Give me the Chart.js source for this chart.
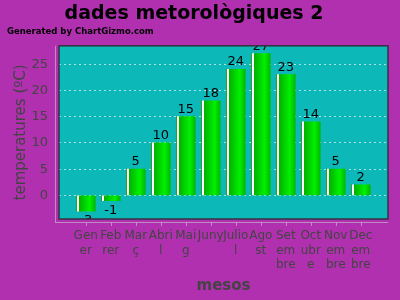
<!DOCTYPE html>
<html>
<head>
<meta charset="utf-8">
<script src="https://cdn.jsdelivr.net/npm/chart.js@4"></script>
<style>
  html, body { margin: 0; padding: 0; background: #b030b0; }
  #wrap { width: 400px; height: 300px; }
</style>
</head>
<body>
<div id="wrap"><canvas id="chart" width="400" height="300"></canvas></div>
<script>
const months = [
    ['Gen', 'er'], ['Feb', 'rer'], ['Mar', 'ç'], ['Abri', 'l'], ['Mai', 'g'], ['Juny'],
    ['Julio', 'l'], ['Ago', 'st'], ['Set', 'em', 'bre'], ['Oct', 'ubr', 'e'], ['Nov', 'em', 'bre'], ['Dec', 'em', 'bre']
];
const temps = [-3, -1, 5, 10, 15, 18, 24, 27, 23, 14, 5, 2];
const yTicks = [0, 5, 10, 15, 20, 25];

const purple = '#b030b0';
const teal = '#0cb8b8';
const axisText = '#444444';

// plot box background, border, value labels and the offset axis lines
const gizmoPlugin = {
    id: 'gizmo',
    beforeDraw(chart) {
        const ctx = chart.ctx;
        const a = chart.chartArea;
        ctx.save();
        ctx.fillStyle = teal;
        ctx.fillRect(a.left, a.top, a.right - a.left, a.bottom - a.top);
        ctx.fillStyle = '#000';
        ctx.font = 'bold 8.5px "DejaVu Sans"';
        ctx.textAlign = 'left';
        ctx.textBaseline = 'middle';
        ctx.fillText('Generated by ChartGizmo.com', 7, 32);
        ctx.restore();
    },
    afterDatasetsDraw(chart) {
        const ctx = chart.ctx;
        const a = chart.chartArea;
        const meta = chart.getDatasetMeta(0);
        ctx.save();
        ctx.beginPath();
        ctx.rect(a.left, a.top, a.right - a.left, a.bottom - a.top);
        ctx.clip();
        ctx.fillStyle = '#000';
        ctx.font = '13px "DejaVu Sans"';
        ctx.textAlign = 'center';
        meta.data.forEach((bar, i) => {
            const v = temps[i];
            if (v >= 0) {
                ctx.textBaseline = 'bottom';
                ctx.fillText(String(v), bar.x, bar.y - 1);
            } else {
                ctx.textBaseline = 'top';
                ctx.fillText(String(v), bar.x, bar.y + 3);
            }
        });
        ctx.restore();

        ctx.save();
        ctx.strokeStyle = '#333340';
        ctx.lineWidth = 1.5;
        ctx.strokeRect(a.left, a.top, a.right - a.left, a.bottom - a.top);
        ctx.strokeStyle = 'rgba(200,160,200,0.8)';
        ctx.lineWidth = 1;
        ctx.beginPath();
        ctx.moveTo(a.left - 3.5, a.top);
        ctx.lineTo(a.left - 3.5, a.bottom + 4);
        ctx.moveTo(a.left - 3.5, a.bottom + 3.5);
        ctx.lineTo(a.right, a.bottom + 3.5);
        const xs = chart.scales.x;
        months.forEach((m, i) => {
            const px = Math.round(xs.getPixelForValue(i)) + 0.5;
            ctx.moveTo(px, a.bottom + 3.5);
            ctx.lineTo(px, a.bottom + 7);
        });
        ctx.stroke();
        ctx.restore();
    }
};

function barGradient(context) {
    const chart = context.chart;
    const xs = chart.scales.x;
    if (!chart.chartArea || !xs || context.dataIndex === undefined) return '#00cc00';
    const cx = xs.getPixelForValue(context.dataIndex);
    const left = cx - 9.5;
    const right = cx + 9.5;
    const g = chart.ctx.createLinearGradient(left, 0, right, 0);
    g.addColorStop(0, '#2e9e2e');
    g.addColorStop(0.05, '#2e9e2e');
    g.addColorStop(0.06, '#ffffff');
    g.addColorStop(0.12, '#ffffff');
    g.addColorStop(0.14, '#00b000');
    g.addColorStop(0.7, '#00f000');
    g.addColorStop(1, '#00b800');
    return g;
}

new Chart(document.getElementById('chart'), {
    type: 'bar',
    data: {
        datasets: [{
            data: temps.map((v, i) => ({ x: i, y: v })),
            backgroundColor: barGradient,
            borderWidth: 0,
            barThickness: 19
        }]
    },
    options: {
        responsive: false,
        animation: false,
        layout: { padding: { left: 0, right: 12, top: 0, bottom: 0 } },
        plugins: {
            legend: { display: false },
            tooltip: { enabled: false },
            title: {
                display: true,
                text: 'dades metorològiques 2',
                color: '#000',
                font: { family: 'DejaVu Sans', size: 19, weight: 'bold' },
                padding: { top: 3, bottom: 20 }
            }
        },
        scales: {
            x: {
                type: 'linear',
                offset: false,
                min: -1.07,
                max: 12.09,
                grid: { display: false },
                border: { display: false },
                afterBuildTicks(scale) {
                    scale.ticks = months.map((m, i) => ({ value: i }));
                },
                afterFit(scale) { scale.height = 81; },
                ticks: {
                    autoSkip: false,
                    maxRotation: 0,
                    padding: 2,
                    color: axisText,
                    font: { family: 'DejaVu Sans', size: 12 },
                    callback: (v) => months[v]
                },
                title: {
                    display: true,
                    text: 'mesos',
                    color: axisText,
                    font: { family: 'DejaVu Sans', size: 15, weight: 'bold' },
                    padding: { top: 0, bottom: 5 }
                }
            },
            y: {
                min: -4.5,
                max: 28.5,
                afterBuildTicks(scale) {
                    scale.ticks = yTicks.map(v => ({ value: v }));
                },
                afterFit(scale) { scale.width = 59; },
                border: { display: false, dash: [2, 3] },
                grid: {
                    color: 'rgba(225,240,240,0.75)',
                    drawTicks: false,
                    lineWidth: 1
                },
                ticks: {
                    padding: 11,
                    color: axisText,
                    font: { family: 'DejaVu Sans', size: 13 }
                },
                title: {
                    display: true,
                    text: 'temperatures (ºC)',
                    color: axisText,
                    font: { family: 'DejaVu Sans', size: 15 },
                    padding: { top: 12, bottom: 0 }
                }
            }
        }
    },
    plugins: [gizmoPlugin]
});
</script>
</body>
</html>
